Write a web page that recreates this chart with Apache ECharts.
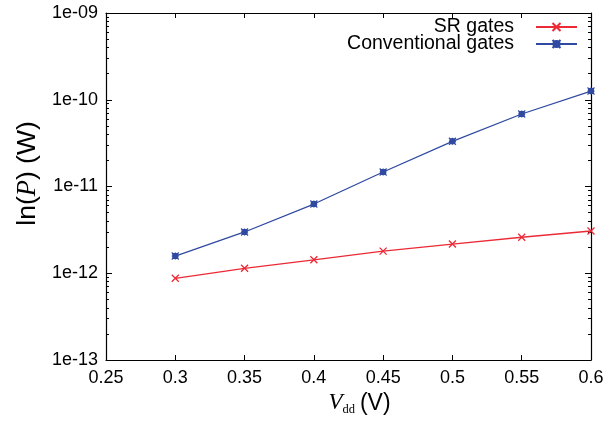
<!DOCTYPE html>
<html>
<head>
<meta charset="utf-8">
<script src="https://cdn.jsdelivr.net/npm/echarts@6/dist/echarts.min.js"></script>
<style>
html,body{margin:0;padding:0;background:#fff;}
#chart{width:615px;height:425px;}
</style>
</head>
<body>
<div id="chart"></div>
<script>
const vdd = [0.3, 0.35, 0.4, 0.45, 0.5, 0.55, 0.6];
const srGates = [8.75e-13, 1.14e-12, 1.43e-12, 1.80e-12, 2.17e-12, 2.60e-12, 3.07e-12];
const convGates = [1.58e-12, 2.99e-12, 6.28e-12, 1.47e-11, 3.32e-11, 6.85e-11, 1.26e-10];
const yTickLabels = ['1e-13', '1e-12', '1e-11', '1e-10', '1e-09'];
const yMinorTicks = [];
[1e-13, 1e-12, 1e-11, 1e-10].forEach(d => { for (let k = 2; k <= 9; k++) yMinorTicks.push(d * k); });

const FONT = '"Liberation Sans", Arial, Helvetica, sans-serif';
const SERIF = '"Liberation Serif", "DejaVu Serif", serif';
const RED = '#ec2a36';
const BLUE = '#2f4aa0';
const crossPath = 'path://M0,0L10,10M10,0L0,10';
const starPath = 'path://M0,0L10,10M10,0L0,10M5,0L5,10M0,5L10,5M1.5,1.5L8.5,1.5L8.5,8.5L1.5,8.5Z';

const chart = echarts.init(document.getElementById('chart'), null, {renderer: 'canvas'});

function ylab(v) {
  const e = Math.round(Math.log10(v));
  return yTickLabels[e + 13] || '';
}

function tickStyle() { return {color: '#000', width: 1}; }
const option = {
  backgroundColor: '#fff',
  animation: false,
  grid: {left: 106, right: 24, top: 13, bottom: 65, containLabel: false},
  legend: {
    orient: 'vertical',
    right: 37,
    top: 17,
    padding: 0,
    align: 'right',
    itemWidth: 41,
    itemHeight: 10,
    itemGap: -3,
    textStyle: {fontFamily: FONT, fontSize: 19.5, lineHeight: 18, color: '#000', padding: [0, 17, 0, 0]},
    data: ['SR gates', 'Conventional gates']
  },
  xAxis: [{
    type: 'value', min: 0.25, max: 0.6, interval: 0.05, position: 'bottom',
    axisLine: {show: true, onZero: false, lineStyle: {color: '#000', width: 1.2}},
    axisTick: {show: true, inside: true, length: 5, lineStyle: tickStyle()},
    axisLabel: {fontFamily: FONT, fontSize: 18, color: '#000', margin: 9},
    splitLine: {show: false},
    name: '{v|V}{d|dd}{u|(V)}',
    nameLocation: 'middle',
    nameGap: 30,
    nameTextStyle: {
      padding: [0, 0, 0, 22],
      rich: {
        v: {fontFamily: SERIF, fontStyle: 'italic', fontSize: 23, color: '#000'},
        d: {fontFamily: SERIF, fontSize: 12.5, color: '#000', verticalAlign: 'bottom', padding: [12, 5, 0, 0]},
        u: {fontFamily: FONT, fontSize: 23, color: '#000'}
      }
    }
  }, {
    type: 'value', min: 0.25, max: 0.6, interval: 0.05, position: 'top',
    axisLine: {show: true, onZero: false, lineStyle: {color: '#000', width: 1.2}},
    axisTick: {show: true, inside: true, length: 5, lineStyle: tickStyle()},
    axisLabel: {show: false},
    splitLine: {show: false}
  }],
  yAxis: [{
    type: 'log', logBase: 10, min: 1e-13, max: 1e-9, position: 'left',
    axisLine: {show: true, lineStyle: {color: '#000', width: 1.2}},
    axisTick: {show: true, inside: true, length: 6, lineStyle: tickStyle()},
    axisLabel: {fontFamily: FONT, fontSize: 18, color: '#000', margin: 8, formatter: ylab},
    splitLine: {show: false},
    name: '{n|ln(}{p|P}{n|) (W)}',
    nameLocation: 'middle',
    nameRotate: 90,
    nameGap: 62,
    nameTextStyle: {
      padding: [0, 0, 0, 26],
      rich: {
        n: {fontFamily: FONT, fontSize: 26.5, color: '#000'},
        p: {fontFamily: SERIF, fontStyle: 'italic', fontSize: 26.5, color: '#000'}
      }
    }
  }, {
    type: 'log', logBase: 10, min: 1e-13, max: 1e-9, position: 'right',
    axisLine: {show: true, lineStyle: {color: '#000', width: 1.2}},
    axisTick: {show: true, inside: true, length: 6, lineStyle: tickStyle()},
    axisLabel: {show: false},
    splitLine: {show: false}
  }, {
    type: 'log', logBase: 10, min: 1e-13, max: 1e-9, position: 'left',
    axisLine: {show: false},
    axisTick: {show: true, inside: true, length: 3, lineStyle: tickStyle(), customValues: yMinorTicks},
    axisLabel: {show: false},
    splitLine: {show: false}
  }, {
    type: 'log', logBase: 10, min: 1e-13, max: 1e-9, position: 'right',
    axisLine: {show: false},
    axisTick: {show: true, inside: true, length: 3, lineStyle: tickStyle(), customValues: yMinorTicks},
    axisLabel: {show: false},
    splitLine: {show: false}
  }],
  series: [{
    name: 'SR gates',
    type: 'line',
    xAxisIndex: 0, yAxisIndex: 0,
    data: vdd.map((x, i) => [x, srGates[i]]),
    symbol: crossPath,
    symbolSize: 7,
    lineStyle: {color: RED, width: 1.3},
    itemStyle: {color: RED, borderColor: RED, borderWidth: 1.3}
  }, {
    name: 'Conventional gates',
    type: 'line',
    xAxisIndex: 0, yAxisIndex: 0,
    data: vdd.map((x, i) => [x, convGates[i]]),
    symbol: starPath,
    symbolSize: 7,
    lineStyle: {color: BLUE, width: 1.3},
    itemStyle: {color: BLUE, borderColor: BLUE, borderWidth: 1.2}
  }]
};
chart.setOption(option);
</script>
</body>
</html>
